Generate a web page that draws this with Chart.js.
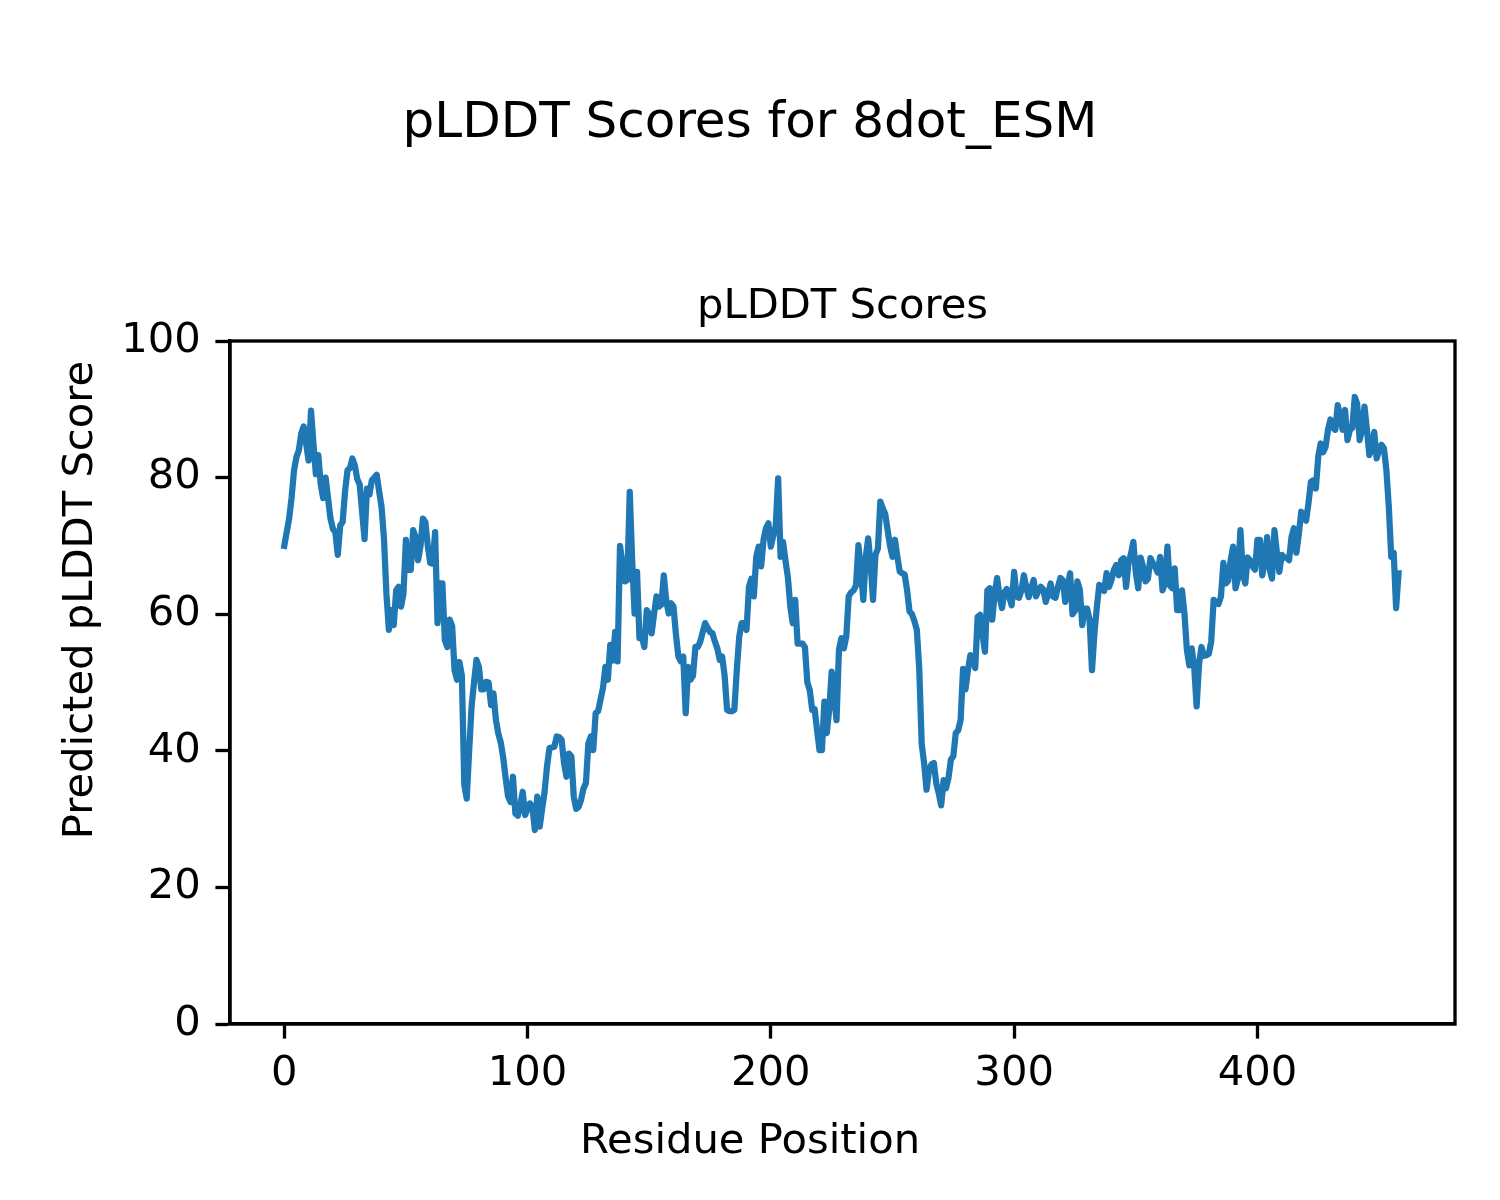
<!DOCTYPE html>
<html>
<head>
<meta charset="utf-8">
<script src="https://cdn.jsdelivr.net/npm/chart.js@4.4.1/dist/chart.umd.min.js"></script>
<style>
  html, body { margin: 0; padding: 0; background: #fff; }
  #wrap { width: 1500px; height: 1200px; }
</style>
</head>
<body>
<div id="wrap"><canvas id="plddtChart" width="1500" height="1200"></canvas></div>
<script>
const figTitle = "pLDDT Scores for 8dot_ESM";
const axTitle = "pLDDT Scores";
const xLabel = "Residue Position";
const yLabel = "Predicted pLDDT Score";
const xTicks = [0, 100, 200, 300, 400];
const yTicks = [0, 20, 40, 60, 80, 100];

// pLDDT per residue
const plddt = [
  70, 72, 74, 77, 81, 83, 84, 86.5, 87.5, 85,
  82.5, 89.8, 85, 80.5, 83.3, 79, 77, 80, 77, 74,
  72.5, 72, 68.7, 73, 73.5, 78, 81.1, 81.4, 82.8, 81.8,
  79.8, 79, 75, 71, 78.4, 77.5, 79.6, 80, 80.4, 78,
  75.7, 71, 63, 57.7, 60.6, 58.4, 63.5, 64, 61.1, 63,
  70.9, 66.5, 66.5, 72.3, 71.3, 67.9, 70, 74, 73.5, 70,
  67.5, 67.4, 72, 58.7, 64.5, 64.5, 56.2, 55.2, 59.2, 58.3,
  51.8, 50.4, 53, 51, 35, 33, 40, 46.5, 50, 53.3,
  52.3, 49, 49, 50.1, 50, 46.7, 48.4, 44.5, 42.5, 41.2,
  39, 36, 33.3, 32.5, 36.2, 30.8, 30.5, 32, 34, 30.6,
  31.5, 32.3, 31.8, 28.4, 33.3, 28.9, 31.5, 34, 37.7, 40.4,
  40.5, 40.6, 42.1, 42, 41.6, 38.2, 36.2, 39.6, 39.2, 33.3,
  31.5, 31.8, 32.8, 34.5, 35.3, 41.1, 42.1, 40.1, 45.5, 45.8,
  47.5, 49.2, 52.3, 50.4, 55.5, 53.2, 57.4, 53.1, 70, 67.4,
  64.8, 65, 77.9, 67.9, 60.1, 66.2, 56.5, 56.7, 55.2, 60.6,
  60, 57.2, 60, 62.6, 61.1, 61.4, 65.7, 62, 60.1, 61.6,
  61.1, 57, 53.8, 53.1, 53.8, 45.5, 52.3, 50.4, 51, 55.2,
  55.2, 56, 57.4, 58.7, 58, 57.4, 57.2, 56, 55, 53.3,
  53.8, 51, 46, 45.8, 45.8, 46, 51.8, 56.7, 58.7, 58.7,
  57.7, 64, 65.2, 62.6, 68.4, 69.9, 67, 70.9, 72.6, 73.3,
  69.9, 71.5, 72.9, 79.9, 68.4, 70.6, 67.9, 65.4, 61.1, 58.7,
  62.1, 55.7, 55.7, 55.7, 55.2, 50, 48.9, 46, 46.1, 43,
  40.1, 40.1, 47.2, 42.6, 46.1, 51.6, 48, 44.5, 54.8, 56.5,
  55, 56.7, 62.6, 63.2, 63.5, 64.2, 70.1, 66.5, 62.1, 68.3,
  71.1, 67.4, 62.1, 68.7, 69.6, 76.5, 75.5, 74.7, 72.3, 70,
  68.4, 70.9, 68.4, 66.2, 66, 65.8, 63.5, 60.4, 60, 59,
  57.7, 52, 41, 38.2, 34.3, 37.2, 38, 38.2, 35.2, 33.8,
  32, 35.7, 34.5, 36, 38.7, 39.2, 42.6, 43, 44.5, 52,
  49, 51.8, 54, 53.7, 52.1, 59.6, 59.9, 57, 54.5, 63.5,
  63.8, 59.2, 63, 65.3, 62.6, 60.9, 63.2, 63.7, 62.5, 61.3,
  66.2, 62.6, 62.4, 63.5, 65.7, 63.9, 62.5, 63.8, 65, 62.6,
  63.5, 64, 63.6, 61.8, 63, 64.5, 62.6, 62.4, 64, 65.3,
  65, 61.8, 64, 66, 60, 60.5, 64.8, 63.6, 58.4, 60.8,
  60.8, 59.2, 51.8, 57.2, 61.1, 64.3, 63.8, 63.4, 66, 64,
  65, 66.5, 67.2, 65.7, 67.9, 68.2, 64, 67.5, 68.8, 70.6,
  66.1, 63.8, 68.3, 66.9, 64.8, 65.2, 68.2, 67.5, 66.9, 66.1,
  68.4, 63.5, 64.5, 69.9, 64.2, 63.8, 66.7, 60.6, 60.6, 63.5,
  60.1, 54.8, 52.5, 55, 52.3, 46.5, 52.7, 55.2, 53.9, 54,
  54.2, 56, 62.1, 61.6, 61.5, 62.6, 67.5, 64.5, 64.9, 67.9,
  69.9, 63.8, 65.2, 72.3, 66, 64.5, 68.3, 67.9, 67, 66.5,
  70.9, 70.9, 65.7, 68, 71.3, 66.6, 65.2, 72.3, 69, 66.2,
  68.7, 68.3, 68.3, 67.9, 71.3, 72.6, 69, 71.7, 75, 74.2,
  73.7, 76.3, 79.4, 79.6, 78.4, 83.1, 85, 83.7, 84.5, 87,
  88.5, 87.3, 87, 90.6, 88.9, 87, 89.9, 85.5, 87, 87.3,
  91.8, 90.8, 85.5, 87, 90.4, 87, 83.3, 84.3, 86.7, 82.8,
  84, 84.8, 84.3, 81.1, 75.7, 68.4, 69, 60.9, 66
];
const residues = plddt.map((v, i) => i);

const FONT = '"DejaVu Sans", "Liberation Sans", sans-serif';

// figure-level texts + axes frame
const figureText = {
  id: 'figureText',
  afterDraw(chart) {
    const ctx = chart.ctx;
    const a = chart.chartArea;
    ctx.save();
    ctx.strokeStyle = '#000';
    ctx.lineWidth = 3.33;
    ctx.strokeRect(a.left, a.top, a.right - a.left, a.bottom - a.top);

    ctx.fillStyle = '#000';
    ctx.textAlign = 'center';
    ctx.textBaseline = 'alphabetic';
    ctx.font = '50px ' + FONT;
    ctx.fillText(figTitle, 750, 137);
    ctx.font = '41.7px ' + FONT;
    ctx.fillText(axTitle, (a.left + a.right) / 2, 318);
    ctx.fillText(xLabel, 750, 1153);
    ctx.translate(92, 600);
    ctx.rotate(-Math.PI / 2);
    ctx.fillText(yLabel, 0, 0);
    ctx.restore();
  }
};

const ctx = document.getElementById('plddtChart').getContext('2d');
const myChart = new Chart(ctx, {
  type: 'line',
  data: {
    labels: residues,
    datasets: [{
      label: 'pLDDT',
      data: plddt.map((v, i) => ({ x: residues[i], y: v })),
      borderColor: '#1f77b4',
      borderWidth: 6.25,
      borderJoinStyle: 'round',
      borderCapStyle: 'square',
      pointRadius: 0,
      tension: 0,
      fill: false
    }]
  },
  options: {
    responsive: false,
    animation: false,
    devicePixelRatio: 1,
    layout: { padding: { left: 0, right: 45, top: 341, bottom: 0 } },
    plugins: {
      legend: { display: false },
      tooltip: { enabled: false }
    },
    scales: {
      x: {
        type: 'linear',
        min: -22.3,
        max: 481.2,
        afterBuildTicks: scale => { scale.ticks = xTicks.map(v => ({ value: v })); },
        afterFit: scale => { scale.height = 176; },
        grid: { drawOnChartArea: false, drawTicks: true, tickLength: 14.6, tickWidth: 3.33, tickColor: '#000' },
        border: { display: true, color: '#000', width: 3.33 },
        ticks: { color: '#000', padding: 11, maxRotation: 0, font: { family: FONT, size: 41.7 } }
      },
      y: {
        min: 0,
        max: 100,
        afterBuildTicks: scale => { scale.ticks = yTicks.map(v => ({ value: v })); },
        afterFit: scale => { scale.width = 230; },
        grid: { drawOnChartArea: false, drawTicks: true, tickLength: 14.6, tickWidth: 3.33, tickColor: '#000' },
        border: { display: true, color: '#000', width: 3.33 },
        ticks: { color: '#000', padding: 14.6, font: { family: FONT, size: 41.7 } }
      }
    }
  },
  plugins: [figureText]
});
</script>
</body>
</html>
